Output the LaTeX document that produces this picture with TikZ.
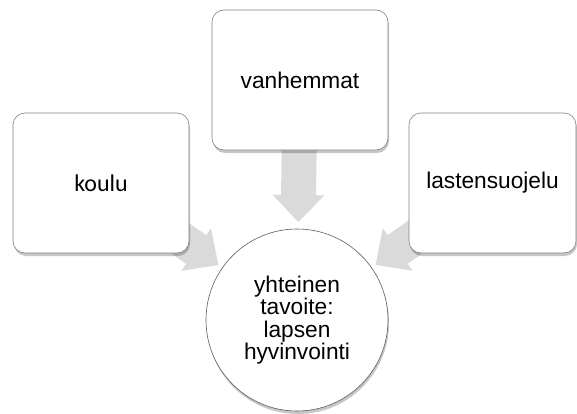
\documentclass[tikz,border=0pt]{standalone}
\usepackage{fontspec}
\setmainfont{Liberation Sans}
\newfontfamily\calibfont{Carlito}
\usetikzlibrary{calc,shadows}
\pgfdeclarelayer{background}
\pgfsetlayers{background,main}

\definecolor{boxline}{RGB}{130,130,130}
\definecolor{ringline}{RGB}{90,90,90}
\definecolor{arrowgray}{RGB}{218,218,218}

\tikzset{
  softshadow/.style={drop shadow={shadow xshift=1pt,shadow yshift=-3pt,fill=black,opacity=0.22}},
  partner/.style={draw=boxline,line width=0.6pt,fill=white,rounded corners=12pt,
    minimum height=140pt,softshadow,font=\fontsize{22.7}{23}\selectfont,inner sep=0pt},
  goalring/.style={circle,draw=ringline,line width=0.6pt,fill=white,minimum size=182pt,
    softshadow,align=center,inner sep=0pt,font=\fontsize{22.7}{22.4}\selectfont},
  arrowbody/.style={fill=arrowgray}
}

% block arrow from #1 (start) to #2 (tip)
\newcommand\blockarrow[2]{%
  \path (#1) coordinate (ba-s) (#2) coordinate (ba-t);
  \path ($(ba-t)!27pt!(ba-s)$) coordinate (ba-h);
  \fill[arrowbody]
    ($(ba-s)!17.5pt!90:(ba-t)$) --
    ($(ba-h)!17.5pt!90:(ba-t)$) --
    ($(ba-h)!26pt!90:(ba-t)$) --
    (ba-t) --
    ($(ba-h)!26pt!-90:(ba-t)$) --
    ($(ba-h)!17.5pt!-90:(ba-t)$) --
    ($(ba-s)!17.5pt!-90:(ba-t)$) -- cycle;
}

\begin{document}
\begin{tikzpicture}[x=1pt,y=-1pt]
\useasboundingbox (0,0) rectangle (577,414);

\node[partner,minimum width=176pt] (vh) at (300,80) {vanhemmat};
\node[partner,minimum width=176pt,font=\calibfont\fontsize{24}{24}\selectfont] (ko) at (101,183) {koulu};
\node[partner,minimum width=167pt] (ls) at (492.5,183) {lastensuojelu};
\node[goalring] (goal) at (297,320) {yhteinen\\tavoite:\\lapsen\\hyvinvointi};

\begin{pgfonlayer}{background}
  \blockarrow{vh.center}{$(goal.center)!98pt!(vh.center)$}
  \blockarrow{ko.center}{$(goal.center)!96pt!(ko.center)$}
  \blockarrow{ls.center}{$(goal.center)!96pt!(ls.center)$}
\end{pgfonlayer}
\end{tikzpicture}
\end{document}
